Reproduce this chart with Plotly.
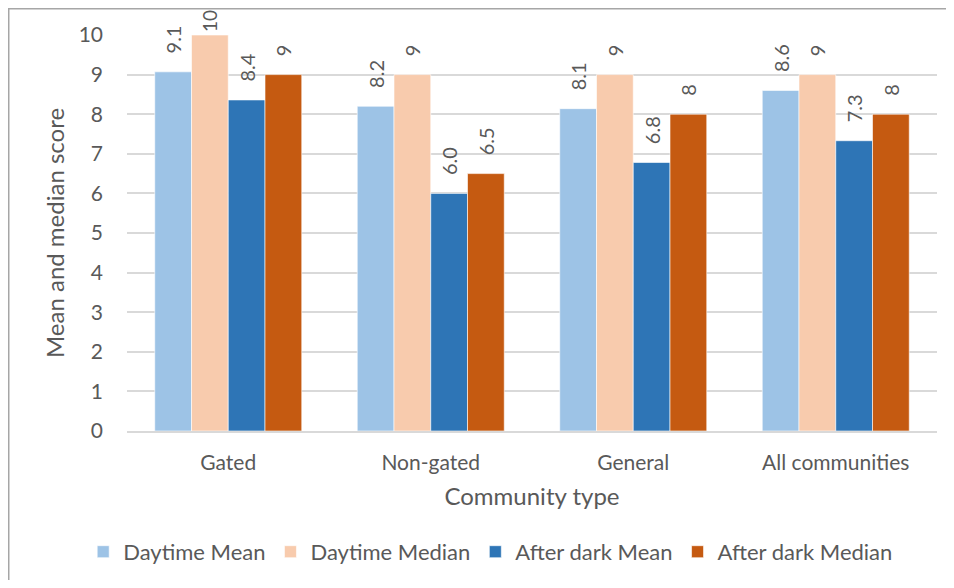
import plotly.graph_objects as go

categories = ["Gated", "Non-gated", "General", "All communities"]
daytime_mean = [9.07, 8.2, 8.14, 8.6]
daytime_median = [10, 9, 9, 9]
afterdark_mean = [8.36, 6.0, 6.78, 7.33]
afterdark_median = [9, 6.5, 8, 8]
y_ticks = list(range(0, 11))
Y_MAX = 10

series = [
    ("Daytime Mean", daytime_mean, "#9DC3E6", "{:.1f}"),
    ("Daytime Median", daytime_median, "#F8CBAD", "{:g}"),
    ("After dark Mean", afterdark_mean, "#2E75B6", "{:.1f}"),
    ("After dark Median", afterdark_median, "#C55A11", "{:g}"),
]

FONT = "Lato, Open Sans, sans-serif"
GREY = "#595959"
PAD = "\u00a0\u00a0\u00a0"

fig = go.Figure()
for name, vals, color, fmt in series:
    labels = [(fmt.format(v) if v >= Y_MAX else PAD + fmt.format(v)) for v in vals]
    sizes = [19 if v >= Y_MAX else 20 for v in vals]
    fig.add_trace(go.Bar(
        name=name, x=categories, y=vals,
        marker=dict(color=color, line=dict(color="white", width=0.6)),
        text=labels, texttemplate="%{text}", textposition="outside", textangle=-90,
        textfont=dict(size=sizes, color=GREY, family=FONT),
        constraintext="none",
        cliponaxis=False,
    ))

fig.update_layout(
    width=938, height=572,
    margin=dict(l=119, r=9, t=27, b=148),
    paper_bgcolor="white", plot_bgcolor="white",
    barmode="group", bargap=0.274, bargroupgap=0,
    font=dict(family=FONT, color=GREY, size=21),
    uniformtext=dict(mode=False),
    legend=dict(orientation="h", x=0.449, xanchor="center", y=-0.302, yanchor="middle",
                font=dict(size=22, color=GREY, family=FONT), traceorder="normal",
                itemwidth=30),
    showlegend=True,
    shapes=[dict(type="rect", xref="paper", yref="paper",
                 x0=-0.1463, x1=1.3, y0=-0.8, y1=1.0668,
                 line=dict(color="#A6A6A6", width=2), fillcolor="rgba(0,0,0,0)", layer="below")],
)
fig.update_xaxes(
    title=dict(text="Community type", font=dict(size=24, color=GREY, family=FONT), standoff=15),
    tickfont=dict(size=21, color=GREY, family=FONT),
    showline=True, linecolor="#D9D9D9", linewidth=1.5, ticks="",
    ticklabelstandoff=12,
)
fig.update_yaxes(
    title=dict(text="Mean and median score", font=dict(size=24, color=GREY, family=FONT), standoff=7),
    range=[0, Y_MAX], tickvals=y_ticks, ticktext=[str(t) for t in y_ticks],
    tickfont=dict(size=21, color=GREY, family=FONT),
    showgrid=True, gridcolor="#D9D9D9", gridwidth=1.5, zeroline=False, ticks="",
    ticklabelstandoff=23,
)
fig.write_html("out.html")
